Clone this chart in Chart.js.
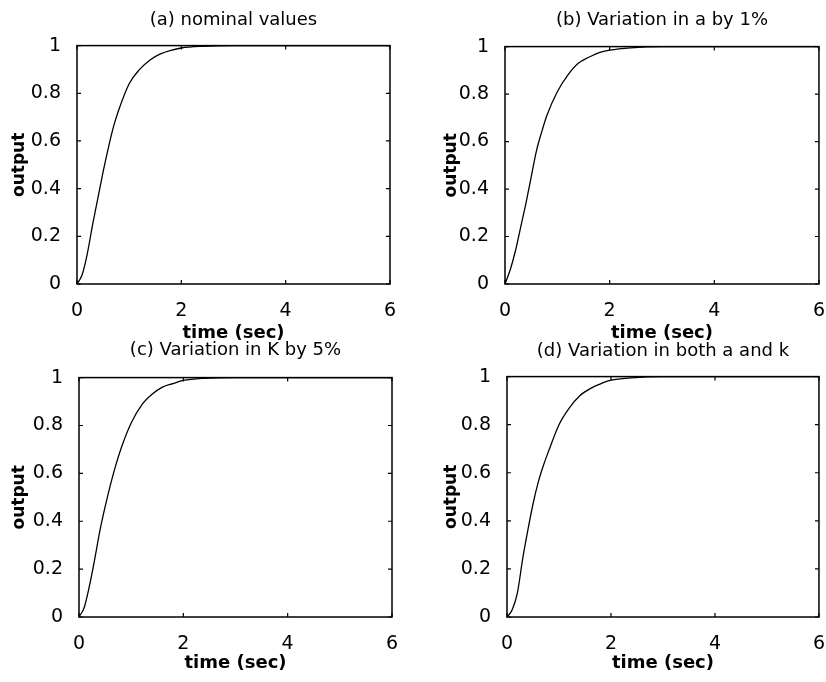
<!DOCTYPE html>
<html>
<head>
<meta charset="utf-8">
<script src="https://cdn.jsdelivr.net/npm/chart.js@4/dist/chart.umd.min.js"></script>
<style>
  html, body { margin: 0; padding: 0; background: #fff; overflow: hidden; }
  body { width: 826px; height: 682px; position: relative; }
  canvas { position: absolute; }
</style>
</head>
<body>
<canvas id="panelA" style="left:0;top:0" width="413" height="344"></canvas>
<canvas id="panelB" style="left:413px;top:0" width="420" height="344"></canvas>
<canvas id="panelC" style="left:0;top:330px" width="413" height="352"></canvas>
<canvas id="panelD" style="left:413px;top:330px" width="420" height="352"></canvas>
<script>
// time samples (sec), shared by all four panels
const timeSec = [0, 0.1, 0.2, 0.3, 0.4, 0.5, 0.6, 0.7, 0.8, 1.0, 1.2, 1.4, 1.6, 1.8, 2.0, 2.4, 3, 4, 5, 6];

// step responses
const outputNominal = [0, 0.04, 0.13, 0.25, 0.36, 0.47, 0.57, 0.66, 0.73, 0.84, 0.9, 0.94, 0.965, 0.98, 0.99, 0.997, 1, 1, 1, 1];
const outputVarA    = [0, 0.06, 0.14, 0.24, 0.34, 0.45, 0.56, 0.64, 0.71, 0.81, 0.88, 0.93, 0.955, 0.975, 0.985, 0.995, 1, 1, 1, 1];
const outputVarK    = [0, 0.04, 0.13, 0.24, 0.36, 0.46, 0.55, 0.63, 0.7, 0.81, 0.885, 0.93, 0.96, 0.975, 0.988, 0.997, 1, 1, 1, 1];
const outputVarBoth = [0, 0.03, 0.1, 0.24, 0.36, 0.47, 0.56, 0.63, 0.69, 0.8, 0.87, 0.92, 0.95, 0.97, 0.985, 0.995, 1, 1, 1, 1];

const xTicks = [0, 2, 4, 6];
const yTicks = [0, 0.2, 0.4, 0.6, 0.8, 1];

const titles = [
  '(a) nominal values',
  '(b) Variation in a by 1%',
  '(c) Variation in K by 5%',
  '(d) Variation in both a and k'
];

const FONT = "'DejaVu Sans', Arial, sans-serif";

// MATLAB style box with inward ticks
const boxPlugin = {
  id: 'matlabBox',
  afterDatasetsDraw(chart) {
    const { ctx, chartArea: a, scales: { x, y } } = chart;
    ctx.save();
    ctx.strokeStyle = '#000';
    ctx.lineWidth = 1.5;
    ctx.strokeRect(a.left, a.top, a.right - a.left, a.bottom - a.top);
    ctx.lineWidth = 1.2;
    ctx.beginPath();
    x.ticks.forEach(t => {
      const px = x.getPixelForValue(t.value);
      ctx.moveTo(px, a.bottom); ctx.lineTo(px, a.bottom - 4);
      ctx.moveTo(px, a.top); ctx.lineTo(px, a.top + 4);
    });
    y.ticks.forEach(t => {
      const py = y.getPixelForValue(t.value);
      ctx.moveTo(a.left, py); ctx.lineTo(a.left + 4, py);
      ctx.moveTo(a.right, py); ctx.lineTo(a.right - 4, py);
    });
    ctx.stroke();
    ctx.restore();
  }
};

function renderPanel(id, title, values, lay) {
  const ctx = document.getElementById(id).getContext('2d');
  new Chart(ctx, {
    type: 'scatter',
    data: {
      datasets: [{
        data: timeSec.map((t, i) => ({ x: t, y: values[i] })),
        showLine: true,
        borderColor: '#000',
        borderWidth: 1.3,
        pointRadius: 0,
        cubicInterpolationMode: 'monotone'
      }]
    },
    options: {
      responsive: false,
      animation: false,
      layout: { padding: { left: 0, right: lay.right, top: 0, bottom: 0 } },
      plugins: {
        legend: { display: false },
        tooltip: { enabled: false },
        title: {
          display: true,
          text: title,
          fullSize: false,
          color: '#000',
          font: { family: FONT, size: 18, weight: 'normal' },
          padding: { top: lay.titleTop, bottom: lay.titleBottom }
        }
      },
      scales: {
        x: {
          type: 'linear',
          min: 0,
          max: 6,
          afterBuildTicks: s => { s.ticks = xTicks.map(v => ({ value: v })); },
          afterFit: s => { s.height = lay.xHeight; },
          grid: { display: false },
          border: { display: false },
          ticks: { color: '#000', font: { family: FONT, size: 19 }, padding: 8, maxRotation: 0,
                   callback: v => String(v) },
          title: {
            display: true,
            text: 'time (sec)',
            color: '#000',
            font: { family: FONT, size: 18, weight: 'bold' },
            padding: { top: 0, bottom: lay.xTitleBottom }
          }
        },
        y: {
          type: 'linear',
          min: 0,
          max: 1,
          afterBuildTicks: s => { s.ticks = yTicks.map(v => ({ value: v })); },
          afterFit: s => { s.width = lay.yWidth; },
          grid: { display: false },
          border: { display: false },
          ticks: { color: '#000', font: { family: FONT, size: 19 }, padding: 8,
                   callback: v => String(v) },
          title: {
            display: true,
            text: 'output',
            color: '#000',
            font: { family: FONT, size: 17, weight: 'bold' },
            padding: { top: lay.yTitleLeft, bottom: 0 }
          }
        }
      }
    },
    plugins: [boxPlugin]
  });
}

renderPanel('panelA', titles[0], outputNominal,
  { right: 23, titleTop: 10, titleBottom: 14, xHeight: 60, xTitleBottom: 0, yWidth: 77, yTitleLeft: 9 });
renderPanel('panelB', titles[1], outputVarA,
  { right: 13, titleTop: 10, titleBottom: 15, xHeight: 60, xTitleBottom: 0, yWidth: 92, yTitleLeft: 28 });
renderPanel('panelC', titles[2], outputVarK,
  { right: 21, titleTop: 10, titleBottom: 16, xHeight: 65, xTitleBottom: 8, yWidth: 79, yTitleLeft: 9 });
renderPanel('panelD', titles[3], outputVarBoth,
  { right: 10, titleTop: 11, titleBottom: 14, xHeight: 65, xTitleBottom: 8, yWidth: 94, yTitleLeft: 28 });
</script>
</body>
</html>
